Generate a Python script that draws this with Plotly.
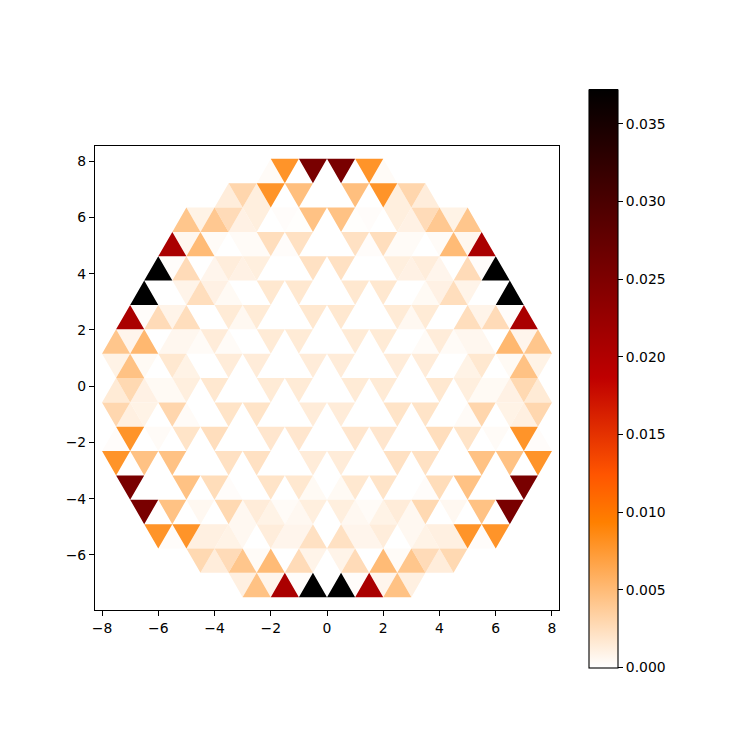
import math
import plotly.graph_objects as go

# Cell values per mesh row (top to bottom), left to right, in units of 1e-4.
ROW_00 = [3,78,0,254,0,254,0,78,3]
ROW_01 = [13,30,12,78,0,47,0,0,0,47,0,78,12,30,13]
ROW_02 = [42,9,40,26,10,12,0,2,1,45,0,45,1,2,0,12,10,26,40,9,42]
ROW_03 = [206,6,50,3,0,3,3,24,2,22,0,0,0,22,2,24,3,3,0,3,50,6,206]
ROW_04 = [372,2,26,0,7,13,10,12,0,0,0,22,0,22,0,0,0,12,10,13,7,0,26,2,372]
ROW_05 = [372,0,0,8,24,10,4,0,0,17,0,17,0,0,0,17,0,17,0,0,4,10,24,8,0,0,372]
ROW_06 = [206,2,26,8,24,0,0,15,5,15,0,0,0,17,0,17,0,0,0,15,5,15,0,0,24,8,26,2,206]
ROW_07 = [42,7,52,0,6,6,3,14,3,0,0,15,0,15,0,0,0,15,0,15,0,0,3,14,3,6,6,0,52,7,42]
ROW_08 = [9,45,4,0,17,9,0,0,14,0,14,0,0,0,14,0,14,0,0,0,14,0,14,0,0,9,17,0,4,45,9]
ROW_09 = [15,28,10,4,4,12,0,17,0,0,0,15,0,15,0,0,0,15,0,15,0,0,0,17,0,12,4,4,10,28,15]
ROW_10 = [29,11,9,0,30,3,0,0,20,0,20,0,0,0,14,0,14,0,0,0,20,0,20,0,0,3,30,0,9,11,29]
ROW_11 = [2,78,0,3,0,20,0,24,0,0,0,18,0,18,0,0,0,18,0,18,0,0,0,24,0,20,0,3,0,78,2]
ROW_12 = [78,0,45,0,45,0,0,0,22,0,22,0,0,0,14,0,14,0,0,0,22,0,22,0,0,0,45,0,45,0,78]
ROW_13 = [254,0,0,0,45,0,25,2,0,0,20,0,17,4,0,4,17,0,20,0,0,2,25,0,45,0,0,0,254]
ROW_14 = [254,0,45,0,5,0,28,5,14,9,3,5,12,0,12,5,3,9,14,5,28,0,5,0,45,0,254]
ROW_15 = [78,2,78,11,11,9,5,0,13,7,7,22,0,22,7,7,13,0,5,9,11,11,78,2,78]
ROW_16 = [28,13,26,42,3,50,0,26,8,0,8,26,0,50,3,42,26,13,28]
ROW_17 = [11,45,7,206,2,372,0,372,2,206,7,45,11]
ROWS = [ROW_00,ROW_01,ROW_02,ROW_03,ROW_04,ROW_05,ROW_06,ROW_07,ROW_08,
        ROW_09,ROW_10,ROW_11,ROW_12,ROW_13,ROW_14,ROW_15,ROW_16,ROW_17]
UNIT = 1e-4
VMAX = 0.0372
X_TICKS = [-8,-6,-4,-2,0,2,4,6,8]
Y_TICKS = [-6,-4,-2,0,2,4,6,8]
CB_TICKS = [0,0.005,0.01,0.015,0.02,0.025,0.03,0.035]

STOPS = [(0,(255,255,255)),(0.25,(255,128,0)),(1/3,(255,85,0)),(0.5,(191,0,0)),(1,(0,0,0))]
def colour(v):
    f = min(1, v / VMAX)
    for (a, ca), (b, cb) in zip(STOPS, STOPS[1:]):
        if f <= b:
            t = (f - a) / (b - a)
            return "rgb(%d,%d,%d)" % tuple(round(p + (q - p) * t) for p, q in zip(ca, cb))
    return "rgb(0,0,0)"

H = math.sqrt(3) / 2
Y0 = 9 * H + math.sqrt(3) / 6
groups = {}
for r, row in enumerate(ROWS):
    top = Y0 - r * H
    bot = top - H
    start = -(len(row) - 1) // 2
    for i, val in enumerate(row):
        j = start + i
        c = j / 2
        if (j + r) % 2:   # pointing down
            xs, ys = [c - .5, c + .5, c, c - .5], [top, top, bot, top]
        else:
            xs, ys = [c - .5, c + .5, c, c - .5], [bot, bot, top, bot]
        g = groups.setdefault(val, ([], []))
        g[0].extend(xs + [None])
        g[1].extend(ys + [None])

fig = go.Figure()
for val, (xs, ys) in sorted(groups.items()):
    col = colour(val * UNIT)
    fig.add_trace(go.Scatter(x=xs, y=ys, mode="lines", fill="toself", fillcolor=col,
                             line=dict(width=0, color=col), hoverinfo="skip", showlegend=False))

fig.add_trace(go.Scatter(
    x=[None], y=[None], mode="markers", showlegend=False, hoverinfo="skip",
    marker=dict(color=[0], cmin=0, cmax=VMAX,
                colorscale=[[a, "rgb(%d,%d,%d)" % c] for a, c in STOPS],
                showscale=True,
                colorbar=dict(x=588.5/749, xanchor="left", y=81.5/749, yanchor="bottom",
                              len=578/749, lenmode="fraction", thickness=29, thicknessmode="pixels",
                              xpad=0, ypad=0, outlinewidth=1.1, outlinecolor="black",
                              tickmode="array", tickvals=CB_TICKS,
                              ticktext=["%.3f" % t for t in CB_TICKS],
                              ticks="outside", ticklen=5, tickwidth=1.1, tickcolor="black",
                              tickfont=dict(family="DejaVu Sans", size=13.9, color="black"))),
))

axis = dict(showgrid=False, zeroline=False, showline=True, mirror=True, linecolor="black",
            linewidth=1.1, ticks="outside", ticklen=5, tickwidth=1.1, tickcolor="black",
            tickfont=dict(family="DejaVu Sans", size=13.9, color="black"), tickmode="array")
fig.update_layout(
    width=749, height=749, margin=dict(l=0, r=0, t=0, b=0, autoexpand=False),
    paper_bgcolor="white", plot_bgcolor="white",
    xaxis=dict(axis, domain=[95/749, 559/749], range=[-8.25, 8.25], tickvals=X_TICKS,
               ticktext=["\u2212%d" % -t if t < 0 else str(t) for t in X_TICKS]),
    yaxis=dict(axis, domain=[139/749, 603/749], range=[-7.96, 8.54], tickvals=Y_TICKS,
               ticktext=["\u2212%d" % -t if t < 0 else str(t) for t in Y_TICKS]),
)
fig.write_html("out.html", config={"displayModeBar": False},
               post_script="document.body.style.margin='0';window.dispatchEvent(new Event('resize'));")
